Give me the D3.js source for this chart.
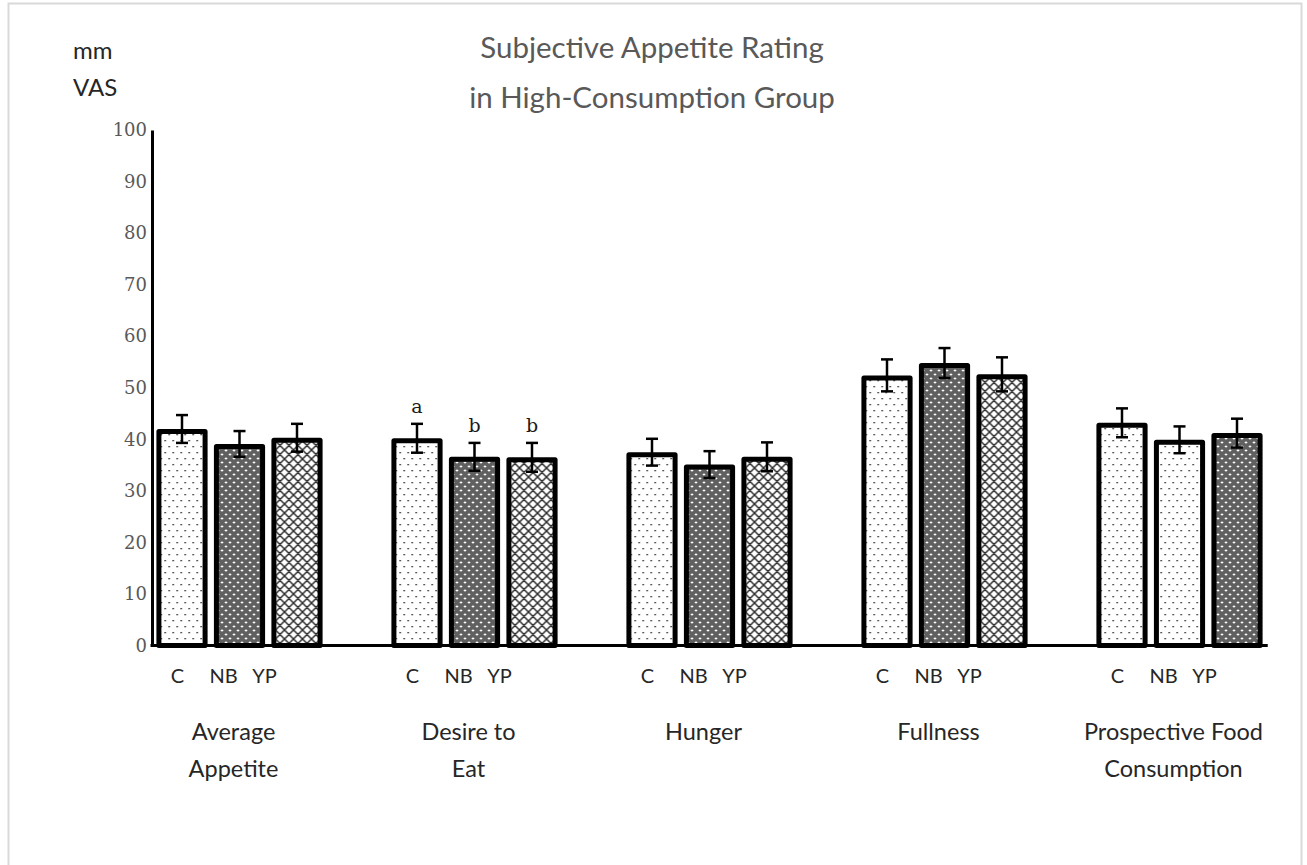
<!DOCTYPE html>
<html>
<head>
<meta charset="utf-8">
<script src="https://cdn.jsdelivr.net/npm/d3@7"></script>
<style>
  html, body { margin: 0; padding: 0; background: #fff; }
  svg { display: block; }
</style>
</head>
<body>
<svg id="chart" width="1307" height="865"></svg>
<script>
// Appetite categories and the label lines written under each group
const categories = ["Average Appetite", "Desire to Eat", "Hunger", "Fullness", "Prospective Food Consumption"];
const categoryLines = [["Average", "Appetite"], ["Desire to", "Eat"], ["Hunger"], ["Fullness"], ["Prospective Food", "Consumption"]];
const series = ["C", "NB", "YP"];

// Mean ratings (mm VAS) per treatment
const valuesC  = [42.0, 40.2, 37.5, 52.4, 43.2];
const valuesNB = [39.1, 36.6, 35.1, 54.8, 39.9];
const valuesYP = [40.3, 36.5, 36.6, 52.6, 41.2];

// Standard errors
const errorC  = [2.7, 2.8, 2.6, 3.1, 2.8];
const errorNB = [2.5, 2.7, 2.6, 2.9, 2.6];
const errorYP = [2.7, 2.8, 2.8, 3.3, 2.8];

// Significance letters (empty = none shown)
const lettersC  = ["", "a", "", "", ""];
const lettersNB = ["", "b", "", "", ""];
const lettersYP = ["", "b", "", "", ""];

// Fill pattern used by each bar
const fillsC  = ["dots", "dots", "dots", "dots", "dots"];
const fillsNB = ["dark", "dark", "dark", "dark", "dots"];
const fillsYP = ["cross", "cross", "cross", "cross", "dark"];

const yTicks = [0, 10, 20, 30, 40, 50, 60, 70, 80, 90, 100];

const valueTable = { C: valuesC, NB: valuesNB, YP: valuesYP };
const errorTable = { C: errorC, NB: errorNB, YP: errorYP };
const letterTable = { C: lettersC, NB: lettersNB, YP: lettersYP };
const fillTable = { C: fillsC, NB: fillsNB, YP: fillsYP };

const bars = [];
categories.forEach((cat, i) => {
  series.forEach(s => {
    bars.push({
      category: cat, series: s,
      value: valueTable[s][i], error: errorTable[s][i],
      letter: letterTable[s][i], fill: fillTable[s][i]
    });
  });
});

const sans = "Lato, 'Open Sans', sans-serif";
const serif = "'DejaVu Serif', 'Liberation Serif', serif";

const svg = d3.select("#chart");

// Outer frame
svg.append("rect")
  .attr("x", 8.5).attr("y", 3.5)
  .attr("width", 1293).attr("height", 880)
  .attr("fill", "#fff").attr("stroke", "#d9d9d9").attr("stroke-width", 2);

// ---- fill patterns ----
const defs = svg.append("defs");

// sparse staggered dots
const pDots = defs.append("pattern")
  .attr("id", "pat-dots").attr("patternUnits", "userSpaceOnUse")
  .attr("width", 8).attr("height", 12);
pDots.append("rect").attr("width", 8).attr("height", 12).attr("fill", "#fff");
[[1, 2], [5, 8]].forEach(([x, y]) =>
  pDots.append("rect").attr("x", x).attr("y", y).attr("width", 1.3).attr("height", 1.3).attr("fill", "#000"));

// dark checker with small white crosses
const pDark = defs.append("pattern")
  .attr("id", "pat-dark").attr("patternUnits", "userSpaceOnUse")
  .attr("width", 8).attr("height", 8);
for (let yy = 0; yy < 8; yy++) {
  for (let xx = 0; xx < 8; xx++) {
    pDark.append("rect").attr("x", xx).attr("y", yy).attr("width", 1).attr("height", 1)
      .attr("fill", (xx + yy) % 2 === 0 ? "#262626" : "#9a9a9a");
  }
}
[[2, 2], [6, 6]].forEach(([cx, cy]) => {
  [[0, 0], [1, 0], [-1, 0], [0, 1], [0, -1]].forEach(([dx, dy]) =>
    pDark.append("rect").attr("x", cx + dx).attr("y", cy + dy).attr("width", 1).attr("height", 1).attr("fill", "#fff"));
});

// diagonal cross hatch
const pCross = defs.append("pattern")
  .attr("id", "pat-cross").attr("patternUnits", "userSpaceOnUse")
  .attr("width", 9).attr("height", 9);
pCross.append("rect").attr("width", 9).attr("height", 9).attr("fill", "#fff");
pCross.append("path")
  .attr("d", "M0,0L9,9M9,0L0,9M-1,8L1,10M8,-1L10,1M-1,1L1,-1M8,10L10,8")
  .attr("stroke", "#2e2e2e").attr("stroke-width", 1.5);

// ---- scales ----
const y = d3.scaleLinear().domain([0, 100]).range([645.5, 130]);
const x0 = d3.scaleBand().domain(categories).range([122, 1297]).padding(0);
const x1 = d3.scaleBand().domain(series).range([-86.25, 86.25]).paddingInner(0.11).paddingOuter(0.055);
const axisX = 152;

// ---- bars ----
const stroke = 5;
const groups = svg.append("g").selectAll("g")
  .data(bars).join("g")
  .attr("transform", d => `translate(${x0(d.category) + x0.bandwidth() / 2},0)`);

groups.append("rect")
  .attr("x", d => x1(d.series) + stroke / 2)
  .attr("y", d => y(d.value) + stroke / 2)
  .attr("width", x1.bandwidth() - stroke)
  .attr("height", d => y(0) - y(d.value) - stroke / 2)
  .attr("fill", d => `url(#pat-${d.fill})`)
  .attr("stroke", "#000").attr("stroke-width", stroke)
  .attr("stroke-linejoin", "round");

// error bars
const cap = 6;
groups.each(function (d) {
  const g = d3.select(this);
  const cx = x1(d.series) + x1.bandwidth() / 2;
  const top = y(d.value + d.error), bot = y(d.value - d.error);
  g.append("line").attr("x1", cx).attr("x2", cx).attr("y1", top).attr("y2", bot);
  g.append("line").attr("x1", cx - cap).attr("x2", cx + cap).attr("y1", top).attr("y2", top);
  g.append("line").attr("x1", cx - cap).attr("x2", cx + cap).attr("y1", bot).attr("y2", bot);
  g.selectAll("line").attr("stroke", "#000").attr("stroke-width", 2.5);
  if (d.letter) {
    g.append("text")
      .attr("x", cx).attr("y", top - 11)
      .attr("text-anchor", "middle")
      .attr("font-family", serif).attr("font-size", 19)
      .attr("fill", "#1a1a1a")
      .text(d.letter);
  }
});

// ---- axes ----
const yAxis = d3.axisLeft(y).tickValues(yTicks).tickSize(0).tickPadding(5);
const gy = svg.append("g").attr("transform", `translate(${axisX},0)`).call(yAxis);
gy.select(".domain").attr("stroke", "#000").attr("stroke-width", 3);
gy.selectAll(".tick text")
  .attr("font-family", serif).attr("font-size", 18).attr("fill", "#595959");

// baseline
const lastCat = categories[categories.length - 1];
svg.append("line")
  .attr("x1", axisX - 1.5)
  .attr("x2", x0(lastCat) + x0.bandwidth() / 2 + x1.range()[1] + 2)
  .attr("y1", y(0)).attr("y2", y(0))
  .attr("stroke", "#000").attr("stroke-width", 3);

// series labels under each group
const seriesOffsets = { C: -62, NB: -16, YP: 25 };
const catG = svg.append("g").selectAll("g")
  .data(categories).join("g")
  .attr("transform", d => `translate(${x0(d) + x0.bandwidth() / 2},0)`);

catG.selectAll("text.series")
  .data(series).join("text")
  .attr("class", "series")
  .attr("x", s => seriesOffsets[s])
  .attr("y", 683)
  .attr("text-anchor", "middle")
  .attr("font-family", sans).attr("font-size", 20).attr("fill", "#262626")
  .text(s => s);

catG.each(function (d, i) {
  const t = d3.select(this).append("text")
    .attr("text-anchor", "middle")
    .attr("font-family", sans).attr("font-size", 23.5).attr("fill", "#262626");
  categoryLines[i].forEach((line, k) => {
    t.append("tspan").attr("x", -6).attr("y", 740 + k * 37).text(line);
  });
});

// y unit label
svg.append("text").attr("x", 73).attr("y", 59)
  .attr("font-family", sans).attr("font-size", 24).attr("fill", "#262626").text("mm");
svg.append("text").attr("x", 73).attr("y", 96)
  .attr("font-family", sans).attr("font-size", 24).attr("fill", "#262626").text("VAS");

// title
const title = svg.append("text")
  .attr("text-anchor", "middle")
  .attr("font-family", sans).attr("font-size", 29.5).attr("fill", "#595959");
title.append("tspan").attr("x", 652).attr("y", 58).text("Subjective Appetite Rating");
title.append("tspan").attr("x", 652).attr("y", 108).text("in High-Consumption Group");
</script>
</body>
</html>
